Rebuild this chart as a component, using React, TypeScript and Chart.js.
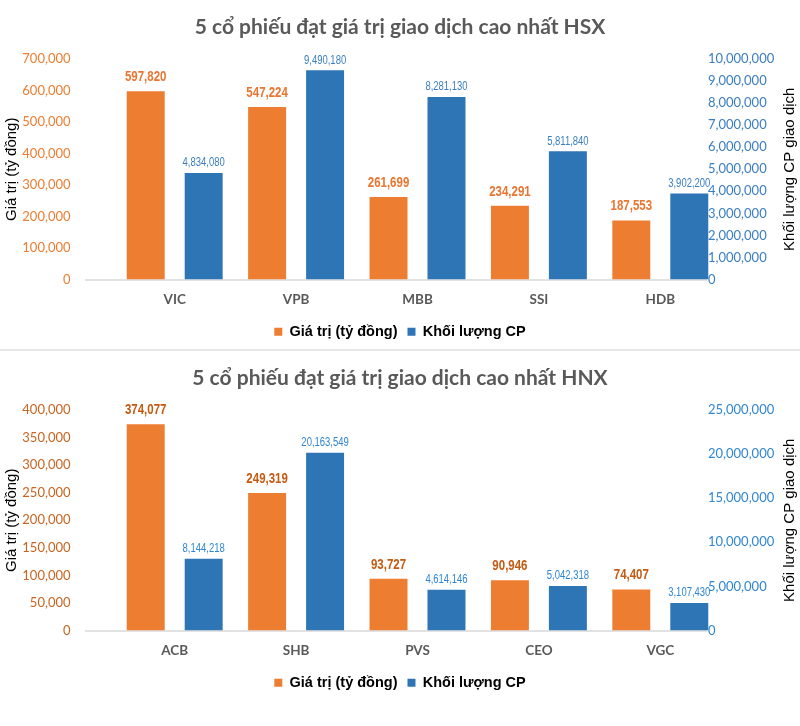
import React, { useEffect, useRef } from "react";
import { Chart, registerables } from "chart.js";

Chart.register(...registerables);

// ---------- Data ----------
const hsxCategories = ["VIC", "VPB", "MBB", "SSI", "HDB"];
const hsxValues = [597820, 547224, 261699, 234291, 187553];
const hsxVolumes = [4834080, 9490180, 8281130, 5811840, 3902200];
const hsxValueAxis = [0, 700000, 100000]; // min, max, step
const hsxVolumeAxis = [0, 10000000, 1000000];

const hnxCategories = ["ACB", "SHB", "PVS", "CEO", "VGC"];
const hnxValues = [374077, 249319, 93727, 90946, 74407];
const hnxVolumes = [8144218, 20163549, 4614146, 5042318, 3107430];
const hnxValueAxis = [0, 400000, 50000];
const hnxVolumeAxis = [0, 25000000, 5000000];

const seriesNames = ["Giá trị (tỷ đồng)", "Khối lượng CP"];
const leftAxisTitle = "Giá trị (tỷ đồng)";
const rightAxisTitle = "Khối lượng CP giao dịch";
const hsxTitle = "5 cổ phiếu đạt giá trị giao dịch cao nhất HSX";
const hnxTitle = "5 cổ phiếu đạt giá trị giao dịch cao nhất HNX";

// ---------- Styles ----------
const ORANGE = "#ED7D31";
const BLUE = "#2E75B6";
const GRAY = "#595959";
const SANS = "Lato, 'Open Sans', sans-serif";
const ARIAL = "'Liberation Sans', Arial, sans-serif";

const fmt = (v: number) => Number(v).toLocaleString("en-US");

// baseline of the category axis (Excel draws it a bit wider than the bar groups)
const baselinePlugin = {
  id: "baseline",
  beforeDatasetsDraw(chart: any, _args: any, opts: any) {
    const { ctx, chartArea } = chart;
    ctx.save();
    ctx.strokeStyle = opts.color;
    ctx.lineWidth = opts.width;
    ctx.beginPath();
    ctx.moveTo(opts.x0, chartArea.bottom + 0.5);
    ctx.lineTo(opts.x1, chartArea.bottom + 0.5);
    ctx.stroke();
    ctx.restore();
  },
};

// value labels above bars (condensed look of Arial Narrow)
const barLabelPlugin = {
  id: "barLabels",
  afterDatasetsDraw(chart: any, _args: any, opts: any) {
    const ctx = chart.ctx;
    chart.data.datasets.forEach((ds: any, di: number) => {
      const meta = chart.getDatasetMeta(di);
      const st = opts.styles[di];
      meta.data.forEach((el: any, i: number) => {
        ctx.save();
        ctx.translate(el.x, el.y - st.offset);
        ctx.scale(st.squeeze, 1);
        ctx.font = st.font;
        ctx.fillStyle = st.color;
        ctx.textAlign = "center";
        ctx.textBaseline = "middle";
        ctx.fillText(fmt(ds.data[i]), 0, 0);
        ctx.restore();
      });
    });
  },
};

// right axis: tick labels (left-aligned, overlapping the plot edge) and rotated title
const rightAxisPlugin = {
  id: "rightAxis",
  afterDraw(chart: any, _args: any, opts: any) {
    const { ctx, chartArea } = chart;
    const s = chart.scales.y1;
    ctx.save();
    ctx.font = opts.tickFont;
    ctx.fillStyle = opts.tickColor;
    ctx.textAlign = "left";
    ctx.textBaseline = "middle";
    s.ticks.forEach((t: any) => {
      ctx.fillText(fmt(t.value), opts.tickX, s.getPixelForValue(t.value));
    });
    ctx.restore();

    ctx.save();
    ctx.translate(opts.titleX, (chartArea.top + chartArea.bottom) / 2);
    ctx.rotate(-Math.PI / 2);
    ctx.font = opts.titleFont;
    ctx.fillStyle = "#000";
    ctx.textAlign = "center";
    ctx.textBaseline = "middle";
    ctx.fillText(opts.title, 0, 0);
    ctx.restore();
  },
};

type PanelCfg = {
  title: string;
  categories: string[];
  values: number[];
  volumes: number[];
  valueAxis: number[];
  volumeAxis: number[];
  leftTickColor: string;
  rightTickColor: string;
  valueLabelColor: string;
  volumeLabelColor: string;
  bottomPad: number;
};

function buildConfig(c: PanelCfg): any {
  return {
    type: "bar",
    data: {
      labels: c.categories,
      datasets: [
        {
          label: seriesNames[0],
          data: c.values,
          backgroundColor: ORANGE,
          yAxisID: "y",
          categoryPercentage: 0.955,
          barPercentage: 0.655,
        },
        {
          label: seriesNames[1],
          data: c.volumes,
          backgroundColor: BLUE,
          yAxisID: "y1",
          categoryPercentage: 0.955,
          barPercentage: 0.655,
        },
      ],
    },
    plugins: [baselinePlugin, barLabelPlugin, rightAxisPlugin],
    options: {
      responsive: false,
      animation: false,
      layout: { padding: { left: 0, right: 0, top: 0, bottom: c.bottomPad } },
      plugins: {
        title: {
          display: true,
          text: c.title,
          color: GRAY,
          font: { family: SANS, size: 21, weight: "bold", lineHeight: 1.2 },
          padding: { top: 14.4, bottom: 19.4 },
        },
        legend: {
          position: "bottom",
          labels: {
            color: "#000",
            font: { family: ARIAL, size: 14.5, weight: "bold" },
            boxWidth: 8,
            boxHeight: 8,
            padding: 10,
          },
        },
        tooltip: { enabled: false },
        baseline: { x0: 85, x1: 707, color: "#d9d9d9", width: 1.5 },
        barLabels: {
          styles: [
            { font: `bold 14px ${ARIAL}`, color: c.valueLabelColor, offset: 14, squeeze: 0.82 },
            { font: `12px ${ARIAL}`, color: c.volumeLabelColor, offset: 10, squeeze: 0.79 },
          ],
        },
        rightAxis: {
          tickX: 708,
          tickFont: `13px ${SANS}`,
          tickColor: c.rightTickColor,
          title: rightAxisTitle,
          titleX: 790,
          titleFont: `15px ${ARIAL}`,
        },
      },
      scales: {
        x: {
          offset: true,
          grid: { display: false, drawTicks: false },
          border: { display: false },
          ticks: {
            color: GRAY,
            font: { family: SANS, size: 13.5, weight: "bold" },
            padding: 11.6,
          },
          afterFit: (s: any) => {
            s.height = 35;
          },
        },
        y: {
          position: "left",
          min: c.valueAxis[0],
          max: c.valueAxis[1],
          grid: { display: false, drawTicks: false },
          border: { display: false },
          ticks: {
            stepSize: c.valueAxis[2],
            color: c.leftTickColor,
            font: { family: SANS, size: 13 },
            padding: 43.5,
            callback: (v: any) => fmt(v),
          },
          title: {
            display: true,
            text: leftAxisTitle,
            color: "#000",
            font: { family: ARIAL, size: 15 },
            padding: { top: 3, bottom: 0 },
          },
          afterFit: (s: any) => {
            s.width = 114;
          },
        },
        y1: {
          position: "right",
          min: c.volumeAxis[0],
          max: c.volumeAxis[1],
          grid: { display: false, drawTicks: false },
          border: { display: false },
          ticks: {
            display: false,
            stepSize: c.volumeAxis[2],
          },
          afterFit: (s: any) => {
            s.width = 79;
          },
        },
      },
    },
  };
}

function Panel({ cfg, height }: { cfg: PanelCfg; height: number }) {
  const ref = useRef<HTMLCanvasElement>(null);
  useEffect(() => {
    const chart = new Chart(ref.current as HTMLCanvasElement, buildConfig(cfg));
    return () => chart.destroy();
  }, []);
  return (
    <canvas
      ref={ref}
      width={800}
      height={height}
      style={{ display: "block", width: 800, height }}
    />
  );
}

const hsxCfg: PanelCfg = {
  title: hsxTitle,
  categories: hsxCategories,
  values: hsxValues,
  volumes: hsxVolumes,
  valueAxis: hsxValueAxis,
  volumeAxis: hsxVolumeAxis,
  leftTickColor: ORANGE,
  rightTickColor: "#3A7EC2",
  valueLabelColor: "#EA7530",
  volumeLabelColor: "#3A7EC2",
  bottomPad: 0,
};

const hnxCfg: PanelCfg = {
  title: hnxTitle,
  categories: hnxCategories,
  values: hnxValues,
  volumes: hnxVolumes,
  valueAxis: hnxValueAxis,
  volumeAxis: hnxVolumeAxis,
  leftTickColor: "#C96420",
  rightTickColor: "#2F86D3",
  valueLabelColor: "#C55A11",
  volumeLabelColor: "#2F86D3",
  bottomPad: 26,
};

export default function App() {
  return (
    <div
      style={{
        position: "absolute",
        left: 0,
        top: 0,
        width: 800,
        height: 726,
        background: "#fff",
      }}
    >
      <Panel cfg={hsxCfg} height={349} />
      <div style={{ height: 2, background: "#e6e6e6" }} />
      <Panel cfg={hnxCfg} height={375} />
    </div>
  );
}
